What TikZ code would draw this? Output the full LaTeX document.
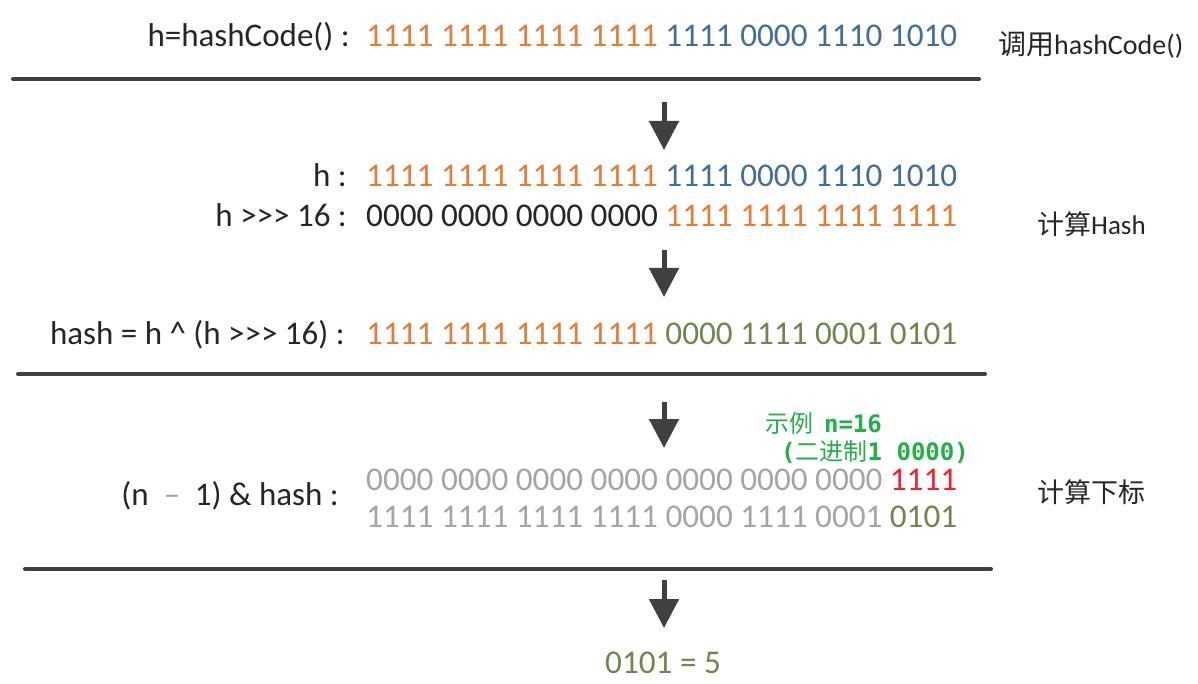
\documentclass[tikz,border=0pt]{standalone}
\usepackage{fontspec}
\setmainfont{Carlito}
\newfontfamily\cjk{Noto Sans CJK SC}
\newfontfamily\monob{DejaVu Sans Mono}
\usetikzlibrary{arrows.meta}
\definecolor{txt}{RGB}{38,38,38}
\definecolor{orng}{RGB}{226,125,58}
\definecolor{blu}{RGB}{68,110,150}
\definecolor{olv}{RGB}{112,134,78}
\definecolor{gry}{RGB}{165,165,165}
\definecolor{rd}{RGB}{250,30,45}
\definecolor{grn}{RGB}{34,175,72}
\definecolor{lin}{RGB}{64,64,64}
\begin{document}
\begin{tikzpicture}[x=1pt,y=-1pt,
  lbl/.style={anchor=base east, inner sep=0pt, font=\fontsize{33}{40}\selectfont, text=txt},
  bits/.style={anchor=base west, inner sep=0pt, font=\fontsize{33.2}{40}\selectfont},
  side/.style={anchor=base west, inner sep=0pt, font=\fontsize{27}{32}\selectfont, text=txt},
  note/.style={anchor=base west, inner sep=0pt, font=\fontsize{24}{28}\selectfont, text=grn},
  sepline/.style={line width=4pt, draw=lin, line cap=round},
  flow/.style={line width=5pt, draw=lin, -{Triangle[width=29pt,length=29pt]}}]
\useasboundingbox (0,0) rectangle (1198,684);
\fill[white] (0,0) rectangle (1198,684);

% row 1
\node[lbl] (l1) at (350,47) {h=hashCode() :};
\node[bits] (b1) at (366,47) {{\color{orng}1111 1111 1111 1111} {\color{blu}1111 0000 1110 1010}};
\node[side,font=\fontsize{28}{32}\selectfont] (s1) at (998,55) {{\cjk 调用}hashCode()};
\draw[sepline] (13,79) -- (979,79);

% arrow 1
\coordinate (a1s) at (664,102);
\coordinate (a1e) at (664,150);
\draw[flow] (a1s) -- (a1e);

% rows 2
\node[lbl] (l2) at (347,187) {h :};
\node[bits] (b2) at (366,187) {{\color{orng}1111 1111 1111 1111} {\color{blu}1111 0000 1110 1010}};
\node[lbl] (l3) at (347,227) {h {>}{>}{>} 16 :};
\node[bits,text=txt] (b3) at (366,227) {0000 0000 0000 0000 {\color{orng}1111 1111 1111 1111}};
\node[side] (s2) at (1037,235) {{\cjk 计算}Hash};

% arrow 2
\coordinate (a2s) at (664,250);
\coordinate (a2e) at (664,297);
\draw[flow] (a2s) -- (a2e);

\node[lbl] (l4) at (345,344) {hash = h \^{} (h {>}{>}{>} 16) :};
\node[bits] (b4) at (366,344) {{\color{orng}1111 1111 1111 1111} {\color{olv}0000 1111 0001 0101}};
\draw[sepline] (18,374) -- (985,374);

% arrow 3
\coordinate (a3s) at (664,402);
\coordinate (a3e) at (664,448);
\draw[flow] (a3s) -- (a3e);

% note
\node[note] (n1) at (765,432) {{\cjk 示例}\ \ {\monob\bfseries n=16}};
\node[note] (n2) at (781,460) {{\monob\bfseries (}{\cjk 二进制}{\monob\bfseries 1 0000)}};

\node[lbl] (l5) at (339,505) {(n \ {\color{gry}–}\ \ 1) \& hash :};
\node[bits,text=gry] (b5) at (366,490) {0000 0000 0000 0000 0000 0000 0000 {\color{rd}1111}};
\node[bits,text=gry] (b6) at (366,527) {1111 1111 1111 1111 0000 1111 0001 {\color{olv}0101}};
\node[side] (s3) at (1037,502) {\cjk 计算下标};
\draw[sepline] (25,569) -- (991,569);

% arrow 4
\coordinate (a4s) at (664,580);
\coordinate (a4e) at (664,628);
\draw[flow] (a4s) -- (a4e);

\node[bits,text=olv] (res) at (605,673) {0101 = 5};
\end{tikzpicture}
\end{document}
